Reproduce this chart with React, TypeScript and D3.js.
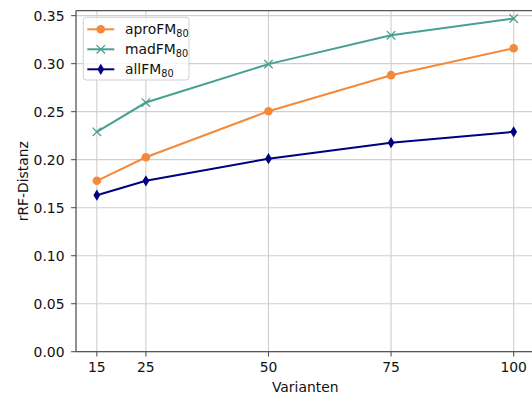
import React from "react";
import * as d3 from "d3";

const varianten = [15, 25, 50, 75, 100];
const aproFM = [0.178, 0.2025, 0.2505, 0.288, 0.316];
const madFM = [0.229, 0.2595, 0.2995, 0.3295, 0.347];
const allFM = [0.163, 0.178, 0.201, 0.2177, 0.229];
const yTicks = [0, 0.05, 0.1, 0.15, 0.2, 0.25, 0.3, 0.35];
const xTicks = [15, 25, 50, 75, 100];

const W = 532, H = 396;
const L = 76, R = 534.5, T = 10.7, B = 351.7;
const FONT = "DejaVu Sans, sans-serif";
const FS = 13.9;

const series = [
  { name: "aproFM", values: aproFM, color: "#f5893a", marker: "circle" },
  { name: "madFM", values: madFM, color: "#47a092", marker: "x" },
  { name: "allFM", values: allFM, color: "#000080", marker: "diamond" },
];

function Marker({ type, x, y, color }: { type: string; x: number; y: number; color: string }) {
  if (type === "circle") return <circle cx={x} cy={y} r={4.3} fill={color} />;
  if (type === "x") {
    const s = 4.2;
    return (
      <g stroke={color} strokeWidth={1.3}>
        <line x1={x - s} y1={y - s} x2={x + s} y2={y + s} />
        <line x1={x - s} y1={y + s} x2={x + s} y2={y - s} />
      </g>
    );
  }
  const h = 5.6, w = 3.4;
  return <path d={`M${x},${y - h}L${x + w},${y}L${x},${y + h}L${x - w},${y}Z`} fill={color} />;
}

export default function App() {
  const x = d3.scaleLinear().domain([10.75, 104.25]).range([L, R]);
  const y = d3.scaleLinear().domain([0, 0.35515]).range([B, T]);
  const line = d3.line<number>().x((_, i) => x(varianten[i])).y((d) => y(d));

  const legX = 83.3, legY = 17.3, legW = 105.7, legH = 62.7;
  const rowY = [29.3, 49.3, 69.3];

  return (
    <svg width={W} height={H} style={{ position: "absolute", left: 0, top: 0, background: "#fff" }} fontFamily={FONT}>
      <rect x={0} y={0} width={W} height={H} fill="#fff" />
      {/* grid */}
      <g stroke="#cfcfcf" strokeWidth={1.1}>
        {xTicks.map((t) => (
          <line key={"gx" + t} x1={x(t)} x2={x(t)} y1={T} y2={B} />
        ))}
        {yTicks.map((t) => (
          <line key={"gy" + t} x1={L} x2={R} y1={y(t)} y2={y(t)} />
        ))}
      </g>
      {/* series */}
      {series.map((s) => (
        <g key={s.name}>
          <path d={line(s.values) || ""} fill="none" stroke={s.color} strokeWidth={2} />
          {s.values.map((v, i) => (
            <Marker key={i} type={s.marker} x={x(varianten[i])} y={y(v)} color={s.color} />
          ))}
        </g>
      ))}
      {/* spines */}
      <g stroke="#555" strokeWidth={1.3} fill="none">
        <line x1={L} x2={L} y1={T} y2={B} />
        <line x1={L} x2={R} y1={B} y2={B} />
        <line x1={L} x2={R} y1={T} y2={T} />
      </g>
      {/* y ticks */}
      {yTicks.map((t) => (
        <g key={"yt" + t}>
          <line x1={L - 4.9} x2={L} y1={y(t)} y2={y(t)} stroke="#555" strokeWidth={1.1} />
          <text x={L - 11.5} y={y(t)} dy="0.36em" textAnchor="end" fontSize={FS} fill="#111">
            {t.toFixed(2)}
          </text>
        </g>
      ))}
      {/* x ticks */}
      {xTicks.map((t) => (
        <g key={"xt" + t}>
          <line x1={x(t)} x2={x(t)} y1={B} y2={B + 4.9} stroke="#555" strokeWidth={1.1} />
          <text x={x(t)} y={B + 20.5} textAnchor="middle" fontSize={FS} fill="#111">
            {t}
          </text>
        </g>
      ))}
      <text x={(L + 534.5) / 2} y={392} textAnchor="middle" fontSize={FS} fill="#111">
        Varianten
      </text>
      <text
        transform={`translate(27.5,${(T + B) / 2}) rotate(-90)`}
        textAnchor="middle"
        fontSize={FS}
        fill="#111"
      >
        rRF-Distanz
      </text>
      {/* legend */}
      <rect x={legX} y={legY} width={legW} height={legH} rx={3} fill="#fff" fillOpacity={0.8} stroke="#d0d0d0" strokeWidth={1} />
      {series.map((s, i) => (
        <g key={"leg" + s.name}>
          <line x1={87.3} x2={114.3} y1={rowY[i]} y2={rowY[i]} stroke={s.color} strokeWidth={2} />
          <Marker type={s.marker} x={100.8} y={rowY[i]} color={s.color} />
          <text x={125} y={rowY[i]} dy="0.36em" fontSize={FS} fill="#111">
            {s.name}
            <tspan fontSize={FS * 0.7} dy="3">80</tspan>
          </text>
        </g>
      ))}
    </svg>
  );
}
